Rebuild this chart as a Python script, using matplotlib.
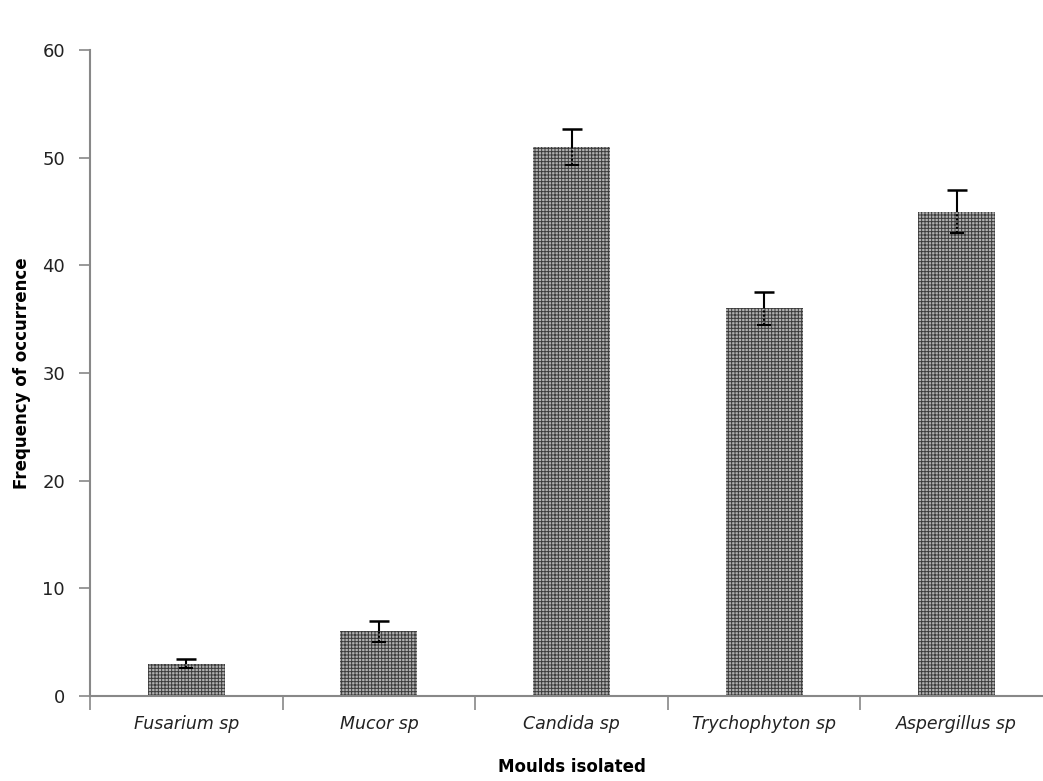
import matplotlib
matplotlib.use('Agg')
import matplotlib.pyplot as plt
import numpy as np

# Data
categories = ['Fusarium sp', 'Mucor sp', 'Candida sp', 'Trychophyton sp', 'Aspergillus sp']
frequency = [3, 6, 51, 36, 45]
errors = [0.4, 1.0, 1.7, 1.5, 2.0]
y_ticks = [0, 10, 20, 30, 40, 50, 60]

plt.rcParams['hatch.linewidth'] = 0.7

fig = plt.figure(figsize=(10.43, 7.81), dpi=100)
ax = fig.add_axes([0.0863, 0.1088, 0.9233, 0.827])

x = np.arange(len(categories))
vals = np.array(frequency)
errs = np.array(errors)

ax.bar(x, vals, width=0.4, color='#b0b0b0', hatch='+++++', edgecolor='#3c3c3c',
       linewidth=0, zorder=2)

# error bars: solid above the bar top, dotted inside the bar
ax.vlines(x, vals, vals + errs, color='black', linewidth=1.5, zorder=3)
ax.vlines(x, vals - errs, vals, color='black', linewidth=1.5, linestyles=(0, (1, 1)), zorder=3)
ax.plot(x, vals + errs, linestyle='none', marker='_', markersize=14,
        markeredgewidth=1.8, color='black', zorder=3)
ax.plot(x, vals - errs, linestyle='none', marker='_', markersize=10,
        markeredgewidth=1.5, color='black', zorder=3)

ax.set_xlim(-0.5, len(categories) - 0.5)
ax.set_ylim(0, 60)
ax.set_yticks(y_ticks)
ax.set_yticklabels([str(t) for t in y_ticks], fontsize=13, color='#222222')

ax.set_xticks(x)
ax.set_xticklabels(categories, fontsize=12.5, style='italic', color='#222222')
ax.tick_params(axis='x', which='major', length=0, pad=14)
ax.set_xticks(np.arange(len(categories) + 1) - 0.5, minor=True)
ax.tick_params(axis='x', which='minor', length=10, direction='out', color='#888888', width=1.2)
ax.tick_params(axis='y', length=8, direction='out', color='#888888', width=1.2, pad=10)

for s in ['top', 'right']:
    ax.spines[s].set_visible(False)
for s in ['left', 'bottom']:
    ax.spines[s].set_color('#888888')
    ax.spines[s].set_linewidth(1.5)

ax.set_ylabel('Frequency of occurrence', fontsize=12, fontweight='bold', labelpad=8)
ax.set_xlabel('Moulds isolated', fontsize=12, fontweight='bold', labelpad=18)

fig.savefig('out.png', dpi=100)
